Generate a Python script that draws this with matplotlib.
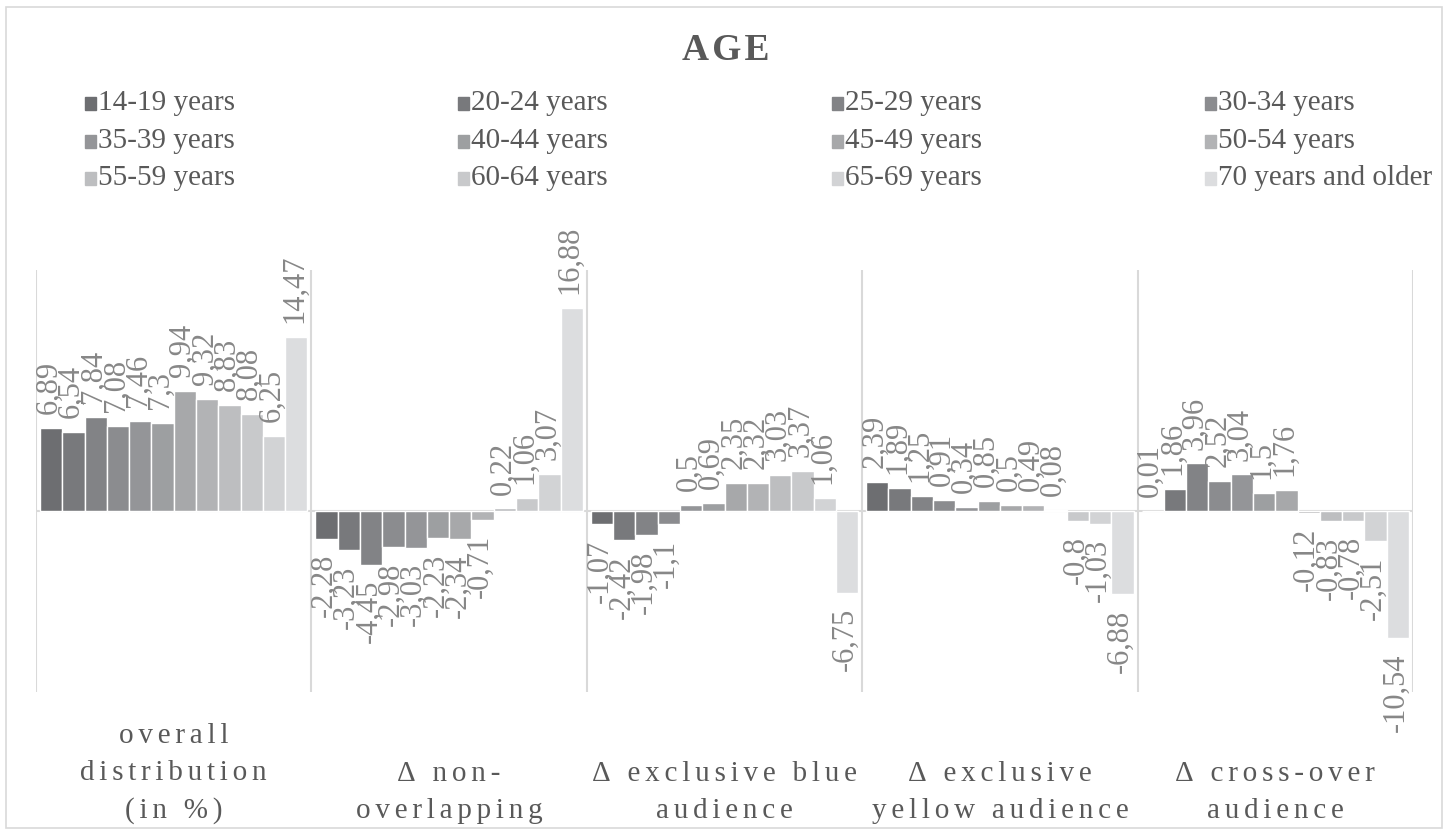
import numpy as np
import matplotlib.pyplot as plt
from matplotlib.patches import Rectangle

categories = ["overall\ndistribution\n(in %)", "Δ non-\noverlapping",
              "Δ exclusive blue\naudience", "Δ exclusive\nyellow audience",
              "Δ cross-over\naudience"]
age_groups = ["14-19 years", "20-24 years", "25-29 years", "30-34 years",
              "35-39 years", "40-44 years", "45-49 years", "50-54 years",
              "55-59 years", "60-64 years", "65-69 years", "70 years and older"]

overall = [6.89, 6.54, 7.84, 7.08, 7.46, 7.3, 9.94, 9.32, 8.83, 8.08, 6.25, 14.47]
non_overlap = [-2.28, -3.23, -4.45, -2.98, -3.03, -2.23, -2.34, -0.71, 0.22, 1.06, 3.07, 16.88]
excl_blue = [-1.07, -2.42, -1.98, -1.1, 0.5, 0.69, 2.35, 2.32, 3.03, 3.37, 1.06, -6.75]
excl_yellow = [2.39, 1.89, 1.25, 0.91, 0.34, 0.85, 0.5, 0.49, 0.08, -0.8, -1.03, -6.88]
cross_over = [0.01, 1.86, 3.96, 2.52, 3.04, 1.5, 1.76, -0.12, -0.83, -0.78, -2.51, -10.54]

colors = ["#6d6e71", "#78797c", "#828386", "#8b8c8f", "#949598", "#9d9fa1",
          "#a7a8aa", "#b2b3b5", "#bdbec0", "#c8c9cb", "#d2d3d5", "#dcdddf"]

text_col = "#595959"
label_col = "#878787"
line_col = "#d9d9d9"
serif = ["Liberation Serif", "DejaVu Serif"]


def spaced(s, sep="\u200a"):
    return "\n".join(sep.join(line) for line in s.split("\n"))


data = np.array([overall, non_overlap, excl_blue, excl_yellow, cross_over])

fig = plt.figure(figsize=(14.51, 8.32), dpi=100)
fig.patches.append(Rectangle((6 / 1451, 4 / 832), 1436 / 1451, 821 / 832,
                             transform=fig.transFigure, fill=False,
                             edgecolor=line_col, linewidth=1.2))

ax = fig.add_axes([36 / 1451, 1 - 692 / 832, 1377 / 1451, 422 / 832])
n = len(age_groups)
slot = 1.0 / (n + 0.35)
x0 = np.arange(len(categories))

for k in range(n):
    xs = x0 + (k - (n - 1) / 2) * slot
    vals = data[:, k]
    ax.bar(xs, vals, width=slot, color=colors[k], edgecolor="white",
           linewidth=1.0, zorder=2)
    for x, v in zip(xs, vals):
        txt = ("%g" % v).replace(".", ",")
        ax.annotate(txt, (x, v), xytext=(-1.5, 10 if v >= 0 else -11),
                    textcoords="offset points", rotation=90,
                    ha="center", va="bottom" if v >= 0 else "top",
                    fontsize=22, color=label_col, family=serif)

ax.set_xlim(-0.5, len(categories) - 0.5)
ax.set_ylim(-15, 20)
ax.axhline(0, color=line_col, linewidth=1.5, zorder=1)
for b in np.arange(len(categories) + 1) - 0.5:
    ax.axvline(b, color=line_col, linewidth=1.5, zorder=1)
ax.axis("off")

for i, c in enumerate(categories):
    fig.text((36 + 275.4 * (i + 0.5)) / 1451, 8 / 832, spaced(c, "\u200a" * 2),
             ha="center", va="bottom", multialignment="center",
             fontsize=21, color=text_col, family=serif, linespacing=1.55)

fig.text(0.5, 1 - 51 / 832, spaced("AGE"), ha="center", va="center",
         fontsize=27, fontweight="bold", color=text_col, family=serif)

# legend, row-major like the original
for i, (lab, col) in enumerate(zip(age_groups, colors)):
    r, c = divmod(i, 4)
    xm = 85 + 373.3 * c
    ym = 103 + 37.5 * r
    fig.patches.append(Rectangle((xm / 1451, 1 - (ym + 7) / 832), 11 / 1451, 13 / 832,
                                 transform=fig.transFigure, color=col))
    fig.text((xm + 13) / 1451, 1 - ym / 832, lab, ha="left", va="center",
             fontsize=21, color=text_col, family=serif)

fig.savefig("out.png", dpi=100)
